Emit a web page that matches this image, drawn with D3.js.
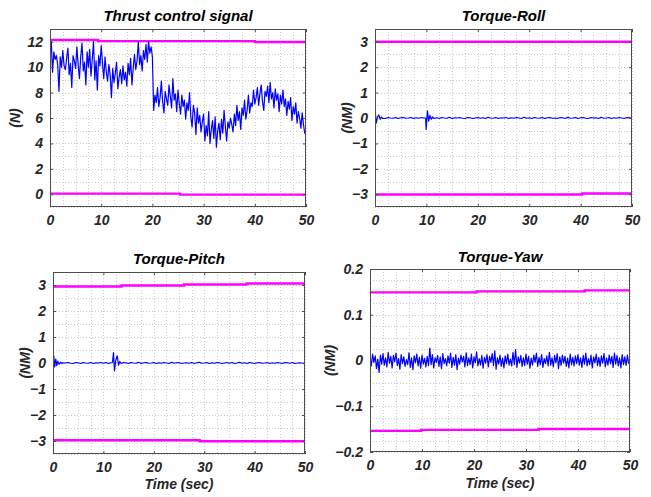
<!DOCTYPE html>
<html>
<head>
<meta charset="utf-8">
<script src="https://cdn.jsdelivr.net/npm/d3@7"></script>
<style>
html,body{margin:0;padding:0;background:#fff;}
svg{display:block;font-family:"Liberation Sans",Arial,sans-serif;}
</style>
</head>
<body>
<svg id="chart" width="651" height="497"></svg>
<script>
// ---------------- DATA ----------------
const xTicks = [0, 10, 20, 30, 40, 50];

// Thrust control signal (N), evenly sampled over 0..50 s
const thrustValues = [
 11.0,12.0,9.6,11.2,10.6,10.9,10.2,8.1,10.8,10.0,11.3,10.1,9.8,10.7,11.5,9.4,10.3,8.4,10.9,10.5,
 9.9,11.6,10.2,9.1,10.8,11.9,9.7,10.4,8.6,11.2,10.0,11.4,9.3,10.6,12.0,9.0,10.5,8.2,10.9,10.1,11.7,
 10.3,9.1,10.8,9.6,8.9,10.2,9.4,7.6,9.9,8.8,9.5,10.4,8.3,9.2,9.8,8.7,10.1,9.0,9.6,8.5,
 10.3,9.4,10.7,8.6,9.9,11.0,9.8,10.5,12.0,10.2,10.9,9.7,11.3,10.6,11.8,10.4,12.0,11.1,11.6,10.8,
 6.6,7.8,7.2,8.4,6.9,7.6,8.9,7.3,6.4,8.1,7.5,7.0,8.6,7.7,6.8,9.1,7.4,7.9,6.5,8.2,
 7.1,6.3,7.8,6.9,7.4,5.9,7.2,6.6,8.0,6.1,5.3,7.0,6.4,4.7,6.8,5.6,6.2,4.9,5.7,6.3,
 4.2,5.4,4.6,6.5,4.0,5.1,5.8,4.4,6.1,3.7,5.0,5.6,4.3,5.9,4.8,6.6,5.3,4.2,5.7,5.2,
 6.0,5.5,4.9,6.3,5.4,7.0,5.8,6.5,5.1,6.8,6.2,7.4,5.9,6.6,7.8,6.4,7.2,6.9,8.2,7.1,
 7.6,8.4,7.0,7.9,8.6,7.3,6.6,8.1,7.7,8.5,7.2,8.8,7.5,8.0,6.8,8.3,7.4,7.9,6.5,7.8,
 7.1,8.2,6.9,7.5,6.2,7.3,6.7,7.6,5.8,6.9,6.3,7.2,5.6,6.5,6.0,5.2,6.4,5.5,4.8,5.1
];
const thrustUpperT = [0, 9.4, 40.0, 50];
const thrustUpperV = [12.13, 12.05, 11.98, 11.98];
const thrustLowerT = [0, 25.4, 50];
const thrustLowerV = [0.05, -0.03, -0.03];
const thrustYTicks = [0, 2, 4, 6, 8, 10, 12];

// Torque-Roll (NM): small ripple every 0.5 s plus two transients
const rollRipple = [
 0,0.02,-0.01,0.01,-0.02,0.02,0,-0.01,0.02,-0.02,
 0.01,0.02,-0.01,0,0.02,-0.02,0.01,-0.01,0.02,0,
 -0.02,0.01,0.02,-0.01,0.01,-0.02,0.02,0,-0.01,0.03,
 -0.02,0.01,0,0.02,-0.01,-0.02,0.02,0.01,-0.02,0,
 0.02,-0.01,0.01,-0.02,0.03,0,-0.01,0.02,-0.02,0.01,
 0,0.02,-0.02,0.01,-0.01,0.02,0,-0.02,0.03,-0.01,
 0.01,-0.02,0.02,0,-0.01,0.02,-0.02,0.01,0.02,-0.01,
 0,-0.02,0.02,0.01,-0.02,0.03,-0.01,0,0.02,-0.02,
 0.01,0.02,-0.01,-0.02,0.02,0,0.01,-0.02,0.03,-0.01,
 0,0.02,-0.02,0.01,-0.01,0.02,0,-0.02,0.02,0.01,0
];
const rollBurstT = [0, 0.25, 0.5, 0.75, 1.0, 1.25, 1.5, 9.85, 9.95, 10.2, 10.45, 10.7, 10.95, 11.2, 11.5];
const rollBurstV = [0.35, -0.2, 0.05, 0.12, -0.05, 0.04, -0.02, 0.0, -0.45, 0.28, -0.12, 0.1, -0.05, 0.04, -0.02];
const rollUpperT = [0, 50];
const rollUpperV = [3.0, 3.0];
const rollLowerT = [0, 40.3, 50];
const rollLowerV = [-3.01, -2.97, -2.97];

// Torque-Pitch (NM)
const pitchRipple = [
 0,-0.01,0.02,-0.02,0.01,0,0.02,-0.01,-0.02,0.02,
 0.01,-0.02,0.02,0,-0.01,0.02,-0.02,0.01,0,0.02,
 -0.01,0.02,-0.02,0.01,0.02,-0.01,0,-0.02,0.02,0.01,
 -0.02,0.02,0,-0.01,0.03,-0.02,0.01,0.02,-0.01,0,
 0.02,-0.02,0.01,-0.01,0.02,0,-0.02,0.03,-0.01,0.01,
 0.02,-0.02,0,0.01,-0.01,0.02,-0.02,0.01,0.03,-0.01,
 0,0.02,-0.02,0.01,-0.01,0.02,0.01,-0.02,0,0.02,
 -0.01,0.02,-0.02,0,0.03,-0.01,0.01,-0.02,0.02,0,
 -0.02,0.01,0.02,-0.01,0,0.02,-0.02,0.01,-0.01,0.02,
 0,-0.02,0.02,0.01,-0.01,0.02,-0.02,0,0.01,-0.01,0
];
const pitchBurstT = [0, 0.15, 0.35, 0.55, 0.75, 0.95, 1.2, 1.5, 1.8, 11.8, 12.0, 12.2, 12.45, 12.75, 13.0, 13.25, 13.5];
const pitchBurstV = [-0.3, 0.28, -0.15, 0.15, -0.1, 0.07, -0.05, 0.03, -0.02, 0.02, 0.4, -0.3, 0.1, 0.28, -0.08, 0.06, -0.02];
const pitchUpperT = [0, 13.6, 26.0, 38.4, 50];
const pitchUpperV = [2.94, 2.98, 3.02, 3.06, 3.06];
const pitchLowerT = [0, 29.1, 50];
const pitchLowerV = [-2.97, -3.01, -3.01];
const torqueYTicks = [-3, -2, -1, 0, 1, 2, 3];

// Torque-Yaw (NM), evenly sampled over 0..50 s
const yawValues = [
 0.005,-0.012,0.014,-0.004,0.010,-0.018,0.003,-0.026,0.012,-0.008,0.015,-0.010,0.006,-0.014,0.018,-0.006,0.009,-0.016,0.011,-0.003,
 0.016,-0.011,0.004,-0.019,0.013,-0.007,0.008,-0.013,0.002,-0.009,0.017,-0.015,0.006,-0.020,0.010,-0.005,0.014,-0.012,0.007,-0.017,
 0.012,-0.008,0.005,-0.014,0.009,-0.011,0.027,-0.009,0.013,-0.016,0.006,-0.004,0.011,-0.013,0.008,-0.018,0.015,-0.007,0.004,-0.012,
 0.010,-0.006,0.016,-0.015,0.007,-0.010,0.013,-0.020,0.005,-0.008,0.012,-0.003,0.009,-0.014,0.017,-0.011,0.006,-0.009,0.014,-0.016,
 0.008,-0.005,0.019,-0.012,0.004,-0.010,0.011,-0.017,0.007,-0.006,0.013,-0.014,0.009,-0.004,0.015,-0.011,0.021,-0.019,0.006,-0.008,
 0.012,-0.013,0.005,-0.016,0.010,-0.007,0.014,-0.010,0.003,-0.012,0.018,-0.009,0.024,-0.015,0.008,-0.006,0.011,-0.013,0.006,-0.011,
 0.014,-0.008,0.009,-0.017,0.005,-0.010,0.012,-0.004,0.016,-0.013,0.007,-0.009,0.013,-0.015,0.004,-0.007,0.010,-0.012,0.018,-0.010,
 0.006,-0.014,0.011,-0.005,0.015,-0.018,0.008,-0.011,0.012,-0.006,0.009,-0.013,0.005,-0.016,0.014,-0.009,0.007,-0.012,0.010,-0.007,
 0.013,-0.010,0.006,-0.015,0.011,-0.008,0.016,-0.012,0.004,-0.009,0.012,-0.016,0.008,-0.005,0.014,-0.011,0.007,-0.013,0.010,-0.006,
 0.015,-0.014,0.005,-0.010,0.012,-0.007,0.009,-0.015,0.016,-0.008,0.011,-0.012,0.006,-0.016,0.013,-0.009,0.008,-0.011,0.012,-0.006,-0.008
];
const yawUpperT = [0, 20.5, 41.3, 50];
const yawUpperV = [0.1489, 0.1511, 0.1533, 0.1533];
const yawLowerT = [0, 9.8, 32.4, 50];
const yawLowerV = [-0.1539, -0.1517, -0.1496, -0.1496];
const yawYTicks = [-0.2, -0.1, 0, 0.1, 0.2];

// ---------------- BUILD ----------------
function even(values) {
  const n = values.length;
  return values.map((v, i) => ({t: i * 50 / (n - 1), v}));
}
function pairs(ts, vs) { return ts.map((t, i) => ({t, v: vs[i]})); }
function merged(ripple, bt, bv, windows) {
  const r = ripple.map((v, i) => ({t: i * 0.5, v}))
    .filter(p => !windows.some(w => p.t >= w[0] && p.t <= w[1]));
  return r.concat(pairs(bt, bv)).sort((a, b) => a.t - b.t);
}
function steps(lo, hi, step) {
  const out = [];
  const n = Math.round((hi - lo) / step);
  for (let i = 0; i <= n; i++) out.push(+(lo + i * step).toFixed(6));
  return out;
}

const panels = [
  {box: {l: 50, r: 306, t: 29, b: 207}, yDomain: [-1, 13], yTicks: thrustYTicks, yMinor: steps(-1, 13, 1),
   series: even(thrustValues), upper: pairs(thrustUpperT, thrustUpperV), lower: pairs(thrustLowerT, thrustLowerV),
   title: "Thrust control signal", titleY: 21, ylabel: "(N)", ylabelX: 20, xlabel: null, fmt: d3.format("d")},
  {box: {l: 375, r: 632, t: 29, b: 207}, yDomain: [-3.5, 3.5], yTicks: torqueYTicks, yMinor: steps(-3.5, 3.5, 0.5),
   series: merged(rollRipple, rollBurstT, rollBurstV, [[0, 1.6], [9.8, 11.6]]),
   upper: pairs(rollUpperT, rollUpperV), lower: pairs(rollLowerT, rollLowerV),
   title: "Torque-Roll", titleY: 21, ylabel: "(NM)", ylabelX: 352, xlabel: null, fmt: d3.format("d")},
  {box: {l: 53, r: 305, t: 272, b: 454}, yDomain: [-3.5, 3.5], yTicks: torqueYTicks, yMinor: steps(-3.5, 3.5, 0.5),
   series: merged(pitchRipple, pitchBurstT, pitchBurstV, [[0, 1.9], [11.7, 13.7]]),
   upper: pairs(pitchUpperT, pitchUpperV), lower: pairs(pitchLowerT, pitchLowerV),
   title: "Torque-Pitch", titleY: 264, ylabel: "(NM)", ylabelX: 30, xlabel: "Time (sec)", xlabelY: 489, fmt: d3.format("d")},
  {box: {l: 370, r: 630, t: 269, b: 452}, yDomain: [-0.2, 0.2], yTicks: yawYTicks, yMinor: steps(-0.2, 0.2, 0.025),
   series: even(yawValues), upper: pairs(yawUpperT, yawUpperV), lower: pairs(yawLowerT, yawLowerV),
   title: "Torque-Yaw", titleY: 262, ylabel: "(NM)", ylabelX: 335, xlabel: "Time (sec)", xlabelY: 488,
   fmt: d => d === 0 ? "0" : d3.format(".1f")(d)}
];

const svg = d3.select("#chart");
const FONT = '"Liberation Sans", Arial, sans-serif';
const xMinor = steps(0, 50, 2.5);

panels.forEach((p, idx) => {
  const {l, r, t, b} = p.box;
  const x = d3.scaleLinear().domain([0, 50]).range([l, r]);
  const y = d3.scaleLinear().domain(p.yDomain).range([b, t]);
  const g = svg.append("g");

  // grid (dotted)
  const grid = g.append("g").attr("stroke", "#cccccc").attr("stroke-width", 1).attr("stroke-dasharray", "1,2");
  grid.selectAll("line.v").data(xMinor).join("line")
    .attr("x1", d => Math.round(x(d)) + 0.5).attr("x2", d => Math.round(x(d)) + 0.5)
    .attr("y1", t).attr("y2", b);
  grid.selectAll("line.h").data(p.yMinor).join("line")
    .attr("y1", d => Math.round(y(d)) + 0.5).attr("y2", d => Math.round(y(d)) + 0.5)
    .attr("x1", l).attr("x2", r);

  // clip
  const cid = "clip" + idx;
  svg.append("clipPath").attr("id", cid).append("rect")
    .attr("x", l).attr("y", t).attr("width", r - l).attr("height", b - t);
  const plot = g.append("g").attr("clip-path", `url(#${cid})`);

  const step = d3.line().x(d => x(d.t)).y(d => y(d.v)).curve(d3.curveStepAfter);
  const line = d3.line().x(d => x(d.t)).y(d => y(d.v));

  plot.append("path").datum(p.upper).attr("d", step)
    .attr("fill", "none").attr("stroke", "#ff00ff").attr("stroke-width", 2.4);
  plot.append("path").datum(p.lower).attr("d", step)
    .attr("fill", "none").attr("stroke", "#ff00ff").attr("stroke-width", 2.4);
  plot.append("path").datum(p.series).attr("d", line)
    .attr("fill", "none").attr("stroke", "#0000ff").attr("stroke-width", 1.2).attr("stroke-linejoin", "round");

  // axes
  const styleAxis = sel => {
    sel.select(".domain").remove();
    sel.selectAll(".tick line").attr("stroke", "#4d4d4d");
    sel.selectAll(".tick text").attr("fill", "#262626")
      .style("font-family", FONT).style("font-size", "14px")
      .style("font-weight", "bold").style("font-style", "italic");
  };
  const bottomAxis = g.append("g").attr("transform", `translate(0,${b})`)
    .call(d3.axisBottom(x).tickValues(xTicks).tickSize(-3).tickFormat(d3.format("d")))
    .call(styleAxis);
  bottomAxis.selectAll(".tick text").attr("y", 18).attr("dy", null);
  g.append("g").attr("transform", `translate(0,${t})`)
    .call(d3.axisTop(x).tickValues(xTicks).tickSize(-3).tickFormat(""))
    .call(styleAxis);
  g.append("g").attr("transform", `translate(${l},0)`)
    .call(d3.axisLeft(y).tickValues(p.yTicks).tickSize(-3).tickPadding(7).tickFormat(p.fmt))
    .call(styleAxis);
  g.append("g").attr("transform", `translate(${r},0)`)
    .call(d3.axisRight(y).tickValues(p.yTicks).tickSize(-3).tickFormat(""))
    .call(styleAxis);

  // box
  g.append("rect").attr("x", l + 0.5).attr("y", t + 0.5).attr("width", r - l - 1).attr("height", b - t - 1)
    .attr("fill", "none").attr("stroke", "#4d4d4d").attr("stroke-width", 1);

  // title
  g.append("text").attr("x", (l + r) / 2).attr("y", p.titleY).attr("text-anchor", "middle")
    .style("font-family", FONT).style("font-size", "15px").style("font-weight", "bold").style("font-style", "italic")
    .attr("fill", "#000").text(p.title);

  // y label
  g.append("text").attr("transform", `translate(${p.ylabelX},${(t + b) / 2}) rotate(-90)`)
    .attr("text-anchor", "middle")
    .style("font-family", FONT).style("font-size", "14px").style("font-weight", "bold").style("font-style", "italic")
    .attr("fill", "#262626").text(p.ylabel);

  if (p.xlabel) {
    g.append("text").attr("x", (l + r) / 2).attr("y", p.xlabelY).attr("text-anchor", "middle")
      .style("font-family", FONT).style("font-size", "14px").style("font-weight", "bold").style("font-style", "italic")
      .attr("fill", "#262626").text(p.xlabel);
  }
});
</script>
</body>
</html>
